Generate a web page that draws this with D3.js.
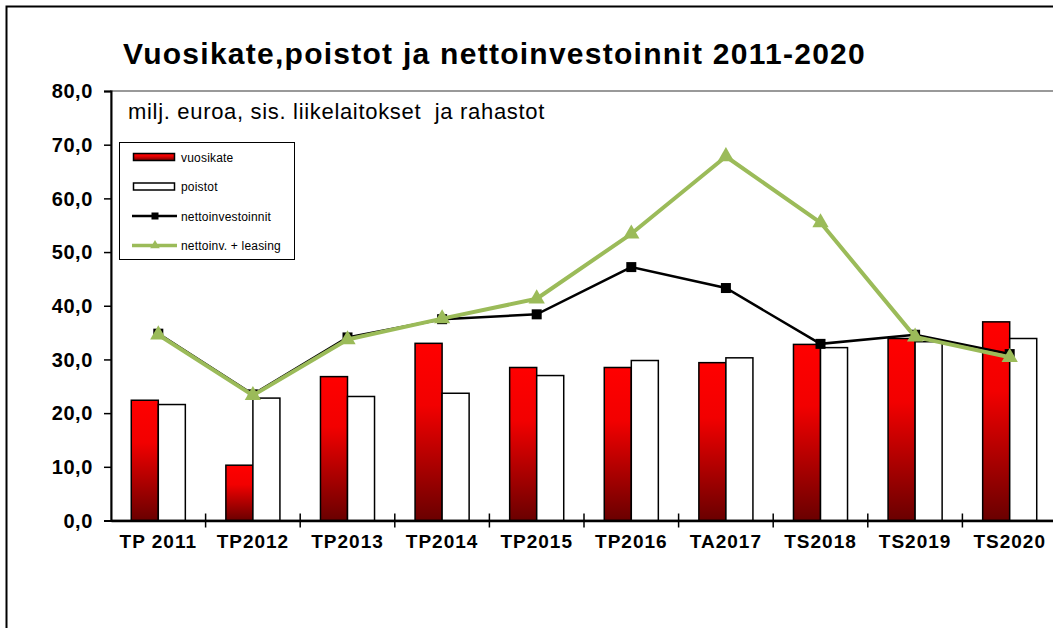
<!DOCTYPE html>
<html>
<head>
<meta charset="utf-8">
<script src="https://cdn.jsdelivr.net/npm/d3@7/dist/d3.min.js"></script>
<style>
  html, body { margin: 0; padding: 0; background: #fff; }
  svg { display: block; }
  text { font-family: "Liberation Sans", Arial, sans-serif; }
</style>
</head>
<body>
<svg id="chart" width="1053" height="628"></svg>
<script>
// ---- data ----
const categories = ["TP 2011", "TP2012", "TP2013", "TP2014", "TP2015", "TP2016", "TA2017", "TS2018", "TS2019", "TS2020"];
const vuosikate = [22.4, 10.3, 26.8, 33.0, 28.5, 28.5, 29.4, 32.8, 33.9, 37.0];
const poistot = [21.6, 22.8, 23.1, 23.7, 27.0, 29.8, 30.3, 32.2, 33.3, 33.9];
const nettoinvestoinnit = [34.8, 23.5, 34.1, 37.5, 38.4, 47.2, 43.3, 32.9, 34.6, 31.0];
const nettoinvLeasing = [34.6, 23.3, 33.7, 37.6, 41.3, 53.4, 67.8, 55.5, 34.2, 30.4];
const yTicks = [0, 10, 20, 30, 40, 50, 60, 70, 80];
const seriesNames = ["vuosikate", "poistot", "nettoinvestoinnit", "nettoinv. + leasing"];
const titleText = "Vuosikate,poistot ja nettoinvestoinnit 2011-2020";
const subtitleText = "milj. euroa, sis. liikelaitokset  ja rahastot";

// ---- layout ----
const svg = d3.select("#chart");
const plot = { left: 111, right: 1057, top: 91, bottom: 520.5 };
const green = "#9bbb59";

function fitWidth(sel, target) {
  const node = sel.node();
  const n = sel.text().length;
  const w = node.getComputedTextLength();
  sel.attr("letter-spacing", ((target - w) / n).toFixed(3));
}

// gradient
const defs = svg.append("defs");
const grad = defs.append("linearGradient").attr("id", "redGrad")
  .attr("x1", 0).attr("y1", 0).attr("x2", 0).attr("y2", 1);
grad.append("stop").attr("offset", "0%").attr("stop-color", "#ff0000");
grad.append("stop").attr("offset", "35%").attr("stop-color", "#f20000");
grad.append("stop").attr("offset", "100%").attr("stop-color", "#6a0000");

// outer frame
svg.append("rect").attr("x", 6.5).attr("y", 6.5).attr("width", 1100).attr("height", 700)
  .attr("fill", "none").attr("stroke", "#000").attr("stroke-width", 2);

// plot area border (top gray line)
svg.append("rect").attr("x", plot.left).attr("y", plot.top)
  .attr("width", plot.right - plot.left).attr("height", plot.bottom - plot.top)
  .attr("fill", "none").attr("stroke", "#999").attr("stroke-width", 2);

// scales
const x = d3.scaleBand().domain(categories).range([plot.left, plot.right]).paddingInner(0).paddingOuter(0);
const x1 = d3.scaleBand().domain(["v", "p"]).range([0, x.bandwidth()]).paddingInner(0).paddingOuter(0.75);
const y = d3.scaleLinear().domain([0, 80]).range([plot.bottom, plot.top]);

// title
const title = svg.append("text").attr("x", 123).attr("y", 63.5)
  .attr("font-size", 30).attr("font-weight", "bold").attr("fill", "#000").text(titleText);
fitWidth(title, 743);

// subtitle
const sub = svg.append("text").attr("x", 128).attr("y", 119).attr("xml:space", "preserve")
  .style("white-space", "pre")
  .attr("font-size", 22).attr("fill", "#000").text(subtitleText);
fitWidth(sub, 417);

// bars
const g = svg.append("g");
categories.forEach((c, i) => {
  g.append("rect")
    .attr("x", x(c) + x1("v")).attr("width", x1.bandwidth())
    .attr("y", y(vuosikate[i])).attr("height", y(0) - y(vuosikate[i]))
    .attr("fill", "url(#redGrad)").attr("stroke", "#000").attr("stroke-width", 1.5);
  g.append("rect")
    .attr("x", x(c) + x1("p")).attr("width", x1.bandwidth())
    .attr("y", y(poistot[i])).attr("height", y(0) - y(poistot[i]))
    .attr("fill", "#fff").attr("stroke", "#000").attr("stroke-width", 1.5);
});

// y axis
const yAxis = svg.append("g").attr("transform", `translate(${plot.left},0)`)
  .call(d3.axisLeft(y).tickValues(yTicks).tickSize(7).tickPadding(11)
    .tickFormat(d => d3.format(".1f")(d).replace(".", ",")));
yAxis.select(".domain").attr("stroke", "#000").attr("stroke-width", 2);
yAxis.selectAll(".tick line").attr("stroke", "#000").attr("stroke-width", 1.5);
yAxis.selectAll(".tick text").attr("font-size", 20).attr("font-weight", "bold")
  .attr("fill", "#000").attr("font-family", "Liberation Sans, Arial, sans-serif")
  .attr("letter-spacing", 0.6).attr("dy", "0.34em");

// x axis
const xAxis = svg.append("g").attr("transform", `translate(0,${plot.bottom})`)
  .call(d3.axisBottom(x).tickSize(0).tickPadding(14));
xAxis.select(".domain").attr("stroke", "#000").attr("stroke-width", 2.5);
xAxis.selectAll(".tick text").attr("font-size", 19).attr("font-weight", "bold")
  .attr("fill", "#000").attr("font-family", "Liberation Sans, Arial, sans-serif")
  .attr("letter-spacing", 1.0).attr("dy", "0.71em");
// category boundary ticks (crossing)
svg.append("g").selectAll("line").data(categories.slice(1)).join("line")
  .attr("x1", d => x(d)).attr("x2", d => x(d))
  .attr("y1", plot.bottom - 7).attr("y2", plot.bottom + 7)
  .attr("stroke", "#000").attr("stroke-width", 1.5);

// lines
const cx = (i) => x(categories[i]) + x.bandwidth() / 2;
const lineGen = d3.line().x((d, i) => cx(i)).y(d => y(d));

svg.append("path").datum(nettoinvestoinnit).attr("d", lineGen)
  .attr("fill", "none").attr("stroke", "#000").attr("stroke-width", 2.5);
svg.append("g").selectAll("rect").data(nettoinvestoinnit).join("rect")
  .attr("x", (d, i) => cx(i) - 5).attr("y", d => y(d) - 5)
  .attr("width", 10).attr("height", 10).attr("fill", "#000");

svg.append("path").datum(nettoinvLeasing).attr("d", lineGen)
  .attr("fill", "none").attr("stroke", green).attr("stroke-width", 4).attr("stroke-linejoin", "round");
const tri = d3.symbol().type(d3.symbolTriangle).size(115);
svg.append("g").selectAll("path").data(nettoinvLeasing).join("path")
  .attr("d", tri).attr("transform", (d, i) => `translate(${cx(i)},${y(d)})`)
  .attr("fill", green);

// legend
const lg = svg.append("g");
lg.append("rect").attr("x", 119.5).attr("y", 142.5).attr("width", 175).attr("height", 117)
  .attr("fill", "#fff").attr("stroke", "#000").attr("stroke-width", 1);
const rowsY = [157, 186.5, 216, 245.5];
lg.append("rect").attr("x", 133.5).attr("y", rowsY[0] - 3.5).attr("width", 41).attr("height", 7)
  .attr("fill", "url(#redGrad)").attr("stroke", "#000").attr("stroke-width", 1.5);
lg.append("rect").attr("x", 133.5).attr("y", rowsY[1] - 3.5).attr("width", 41).attr("height", 7)
  .attr("fill", "#fff").attr("stroke", "#000").attr("stroke-width", 1.5);
lg.append("line").attr("x1", 132).attr("x2", 177).attr("y1", rowsY[2]).attr("y2", rowsY[2])
  .attr("stroke", "#000").attr("stroke-width", 2.5);
lg.append("rect").attr("x", 151.5).attr("y", rowsY[2] - 3.5).attr("width", 7).attr("height", 7).attr("fill", "#000");
lg.append("line").attr("x1", 132).attr("x2", 177).attr("y1", rowsY[3]).attr("y2", rowsY[3])
  .attr("stroke", green).attr("stroke-width", 3.5);
lg.append("path").attr("d", d3.symbol().type(d3.symbolTriangle).size(40))
  .attr("transform", `translate(155,${rowsY[3]})`).attr("fill", green);
seriesNames.forEach((s, i) => {
  lg.append("text").attr("x", 181).attr("y", rowsY[i] + 4.5)
    .attr("font-size", 12).attr("fill", "#000").attr("letter-spacing", 0.2).text(s);
});
</script>
</body>
</html>
